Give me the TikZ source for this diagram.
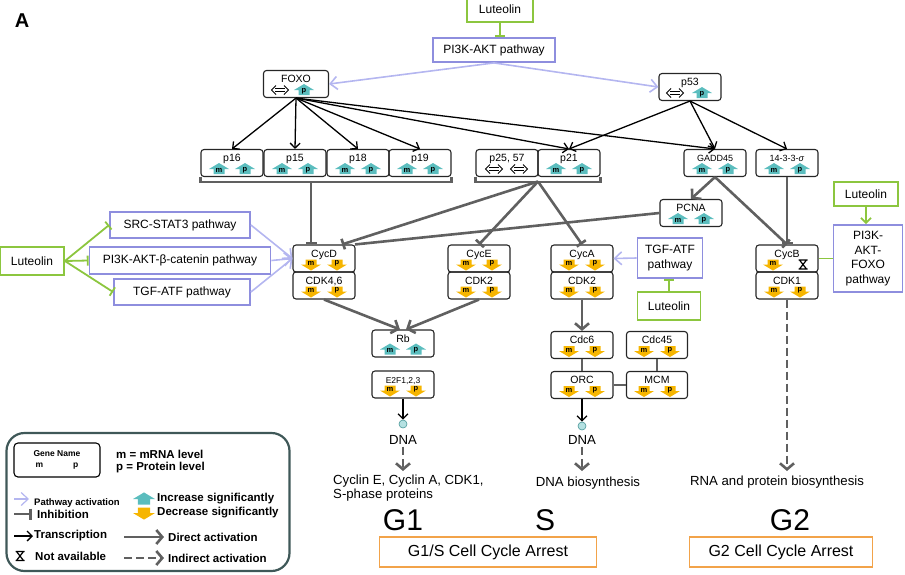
\documentclass[tikz,border=0pt]{standalone}
\usepackage{fontspec}
\setmainfont{Liberation Sans}
\usetikzlibrary{arrows.meta}

\definecolor{tealup}{HTML}{5BBDBE}
\definecolor{golddown}{HTML}{F6B500}
\definecolor{lavline}{HTML}{B4B6F0}
\definecolor{lavbox}{HTML}{8E8EDE}
\definecolor{lutgreen}{HTML}{8CC63F}
\definecolor{linkgray}{HTML}{606060}
\definecolor{arrestor}{HTML}{F2A34A}
\definecolor{legendbd}{HTML}{3F5858}

\newcommand\fsz[1]{\fontsize{#1}{#1}\selectfont}
% m / p marks under a gene name
\newcommand\levels[3]{%
  \pic at ([shift={(-13,6)}]#1.center) {#2=m};
  \pic at ([shift={(13,6)}]#1.center) {#3=p};}

\tikzset{
  upic/.pic={
    \fill[tealup] (-5.5,5) -- (-5.5,0) -- (-10,0) -- (0,-6) -- (10,0) -- (5.5,0) -- (5.5,5) -- cycle;
    \node[font=\bfseries\fsz{7.5}, inner sep=0pt] at (0,1) {#1};},
  dpic/.pic={
    \fill[golddown] (-5.5,-5) -- (5.5,-5) -- (5.5,0) -- (10,0) -- (0,6) -- (-10,0) -- (-5.5,0) -- cycle;
    \node[font=\bfseries\fsz{7.5}, inner sep=0pt] at (0,-1) {#1};},
  eqv/.pic={
    \draw[line width=0.9pt] (-5,-1.7) -- (5,-1.7) (-5,1.7) -- (5,1.7);
    \draw[line width=0.9pt, line join=miter] (-4,-4.5) -- (-8.5,0) -- (-4,4.5)
      (4,-4.5) -- (8.5,0) -- (4,4.5);},
  hglass/.pic={
    \draw[line width=1.2pt] (-4.5,-4.5) -- (4.5,-4.5) (-4.5,4.5) -- (4.5,4.5)
      (-3.5,-4.5) -- (3.5,4.5) (3.5,-4.5) -- (-3.5,4.5);},
}

\begin{document}
\begin{tikzpicture}[x=1pt, y=-1pt,
    gene/.style = {draw=black!85, line width=1.1pt, rounded corners=3pt,
      minimum width=62pt, minimum height=27pt, inner xsep=2pt, inner ysep=3.5pt,
      text height=8.5pt, text depth=11.5pt, font=\fsz{10.5}},
    pathbox/.style = {draw=lavbox, line width=1.8pt, minimum height=26pt,
      align=center, font=\fontsize{12}{14.5}\selectfont},
    lutbox/.style = {draw=lutgreen, line width=1.8pt, minimum height=26pt, font=\fsz{12}},
    arrest/.style = {draw=arrestor, line width=1.8pt, minimum height=30pt, font=\fsz{16}},
    txt/.style = {font=\fontsize{13.2}{14}\selectfont, inner sep=0pt},
    phase/.style = {font=\fsz{30}, inner sep=0pt},
    dnadot/.style = {circle, draw=tealup!80!black, fill=tealup!45, line width=0.6pt,
      minimum size=8pt, inner sep=0pt},
    trans/.style = {line width=1.3pt, -{Straight Barb[length=5pt, width=10pt]}},
    pact/.style = {lavline, line width=1.6pt, -{Straight Barb[length=7pt, width=13pt]}},
    lutinh/.style = {lutgreen, line width=1.8pt, -{Bar[width=10pt]}},
    link/.style = {linkgray, line width=2.6pt},
    direct/.style = {link, -{Straight Barb[length=6pt, width=14pt]}},
    indirect/.style = {direct, dash pattern=on 8pt off 4pt},
    block/.style = {link, -{Bar[width=11pt]}},
    legtxt/.style = {anchor=west, inner sep=0pt, font=\bfseries\fsz{11.5}}
]
\useasboundingbox (0,0) rectangle (905,574);

% Panel letter
\node[font=\bfseries\fsz{20}] (panelA) at (22,21) {A};

% Top pathway
\node[lutbox, minimum width=66pt] (lutA) at (500,9) {Luteolin};
\node[pathbox, minimum width=122pt, minimum height=24pt] (pi3k) at (494,50) {PI3K-AKT pathway};

% Transcription factors
\node[gene, minimum width=65pt] (foxo) at (296,84) {FOXO};
\pic at ([shift={(-16,6)}]foxo.center) {eqv};
\pic at ([shift={(8,6)}]foxo.center) {upic=p};
\node[gene] (p53) at (690,87) {p53};
\pic at ([shift={(-15,6)}]p53.center) {eqv};
\pic at ([shift={(12,6)}]p53.center) {upic=p};

% Target genes
\node[gene] (p16) at (232,163) {p16};
\node[gene] (p15) at (295,163) {p15};
\node[gene] (p18) at (358,163) {p18};
\node[gene] (p19) at (420,163) {p19};
\levels{p16}{upic}{upic}
\levels{p15}{upic}{upic}
\levels{p18}{upic}{upic}
\levels{p19}{upic}{upic}
\node[gene] (p2557) at (507,163) {p25, 57};
\pic at ([shift={(-13,6)}]p2557.center) {eqv};
\pic at ([shift={(12,6)}]p2557.center) {eqv};
\node[gene] (p21) at (569,163) {p21};
\levels{p21}{upic}{upic}
\node[gene, font=\fsz{9}] (gadd) at (715,163) {GADD45};
\levels{gadd}{upic}{upic}
\node[gene, font=\fsz{9}] (sigma) at (787,163) {14-3-3-\textit{σ}};
\levels{sigma}{upic}{upic}
\node[gene] (pcna) at (691,213) {PCNA};
\levels{pcna}{upic}{upic}

% Cyclins and CDKs
\node[gene] (cycD) at (324,258.5) {CycD};
\node[gene] (cdk46) at (324,285.5) {CDK4,6};
\node[gene] (cycE) at (479,258.5) {CycE};
\node[gene] (cdk2e) at (479,285.5) {CDK2};
\node[gene] (cycA) at (582,258.5) {CycA};
\node[gene] (cdk2a) at (582,285.5) {CDK2};
\node[gene] (cycB) at (787,258.5) {CycB};
\node[gene] (cdk1) at (787,285.5) {CDK1};
\levels{cycD}{dpic}{dpic}
\levels{cdk46}{dpic}{dpic}
\levels{cycE}{dpic}{dpic}
\levels{cdk2e}{dpic}{dpic}
\levels{cycA}{dpic}{dpic}
\levels{cdk2a}{dpic}{dpic}
\pic at ([shift={(-14,6)}]cycB.center) {dpic=m};
\pic at ([shift={(16,6)}]cycB.center) {hglass};
\levels{cdk1}{dpic}{dpic}

\node[gene] (rb) at (403,343.5) {Rb};
\levels{rb}{upic}{upic}
\node[gene, font=\fsz{8.5}] (e2f) at (403,384.5) {E2F1,2,3};
\levels{e2f}{dpic}{dpic}
\node[gene] (cdc6) at (582,345) {Cdc6};
\node[gene, minimum width=61pt] (cdc45) at (657,345) {Cdc45};
\node[gene] (orc) at (582,385) {ORC};
\node[gene, minimum width=61pt] (mcm) at (657,385) {MCM};
\levels{cdc6}{dpic}{dpic}
\levels{cdc45}{dpic}{dpic}
\levels{orc}{dpic}{dpic}
\levels{mcm}{dpic}{dpic}

% Side pathways
\node[lutbox, minimum width=64pt, minimum height=28pt] (lutB) at (32,261) {Luteolin};
\node[pathbox, minimum width=140pt] (src) at (180,225) {SRC-STAT3 pathway};
\node[pathbox, minimum width=181pt, minimum height=27pt] (bcat) at (180,260.5) {PI3K-AKT-β-catenin pathway};
\node[pathbox, minimum width=136pt] (tgfL) at (182,292) {TGF-ATF pathway};
\node[pathbox, minimum width=65pt, minimum height=40pt] (tgfR) at (670,258) {TGF-ATF\\pathway};
\node[lutbox, minimum width=63pt, minimum height=28pt] (lutC) at (669,306) {Luteolin};
\node[lutbox, minimum width=64pt, minimum height=24pt] (lutD) at (866,194) {Luteolin};
\node[pathbox, minimum width=69pt, minimum height=67pt] (foxoP) at (868,258.5) {PI3K-\\AKT-\\FOXO\\pathway};

% Outputs
\node[dnadot] (dot1) at (403,424) {};
\node[txt] (dna1) at (403,440) {DNA};
\coordinate (g1end) at (403,471);
\node[txt, anchor=north west, align=left] (cyclins) at (333,475) {Cyclin E, Cyclin A, CDK1,\\S-phase proteins};
\node[dnadot] (dot2) at (582,426) {};
\node[txt] (dna2) at (582,440) {DNA};
\coordinate (send) at (582,471);
\node[txt] (dnabio) at (588,483) {DNA biosynthesis};
\coordinate (g2end) at (787,471);
\node[txt] (rnabio) at (777,482) {RNA and protein biosynthesis};

\node[phase] (g1) at (403,520) {G1};
\node[phase] (sph) at (545,520) {S};
\node[phase] (g2) at (790,520) {G2};
\node[arrest, minimum width=217pt] (arr1) at (488,552) {G1/S Cell Cycle Arrest};
\node[arrest, minimum width=183pt] (arr2) at (781,552) {G2 Cell Cycle Arrest};

% Edges
\draw[lutinh] (lutA.south) -- (lutA.south |- pi3k.north);
\draw[pact] (pi3k.south) -- (foxo.east);
\draw[pact] (pi3k.south) -- (p53.west);

\draw[trans] (foxo.south) -- (p16.north);
\draw[trans] (foxo.south) -- (p15.north);
\draw[trans] (foxo.south) -- (p18.north);
\draw[trans] (foxo.south) -- (p19.north);
\draw[trans] (foxo.south) -- (p21.north);
\draw[trans] (foxo.south) -- (gadd.north);
\draw[trans] (p53.south) -- (p21.north);
\draw[trans] (p53.south) -- (gadd.north);
\draw[trans] (p53.south) -- (sigma.north);

\draw[link, line width=2.2pt] (p16.south west) -- ++(0,5) -| (p19.south east);
\draw[link, line width=2.2pt] (p2557.south west) -- ++(0,5) -| (p21.south east);
\coordinate (pk) at (311,181.5);
\coordinate (pc) at (538,181.5);
\draw[block] (pk) -- (pk |- cycD.north);
\draw[block] (pc) -- ([xshift=18]cycD.north);
\draw[block] (pc) -- (cycE.north);
\draw[block] (pc) -- (cycA.north);

\draw[direct] (gadd.south) -- (pcna.north);
\draw[block] (gadd.south) -- (cycB.north);
\draw[block] (sigma.south) -- (cycB.north);
\draw[link] (pcna.west) -- ([xshift=31]cycD.north);

\draw[lutinh] (lutB.east) -- (src.west);
\draw[lutinh] (lutB.east) -- (bcat.west);
\draw[lutinh] (lutB.east) -- (tgfL.west);
\draw[pact] (src.east) -- (cycD.west);
\draw[pact] (bcat.east) -- (cycD.west);
\draw[pact] (tgfL.east) -- (cycD.west);

\draw[lutinh] (lutC.north) -- (lutC.north |- tgfR.south);
\draw[pact] (tgfR.west) -- (cycA.east);
\draw[lutgreen, line width=1.8pt, -{Straight Barb[length=5pt, width=10pt]}] (lutD.south) -- (lutD.south |- foxoP.north);
\draw[lutgreen, line width=1.8pt] (foxoP.west) -- (cycB.east);

\draw[direct] (cdk46.south) -- ([xshift=-3]rb.north);
\draw[direct] (cdk2e.south) -- ([xshift=3]rb.north);
\draw[direct] (cdk2a.south) -- (cdc6.north);
\draw[link, line width=2.2pt] (cdc6) -- (orc);
\draw[link, line width=2.2pt] (cdc45) -- (mcm);
\draw[link, line width=2.2pt] (orc) -- (mcm);

\draw[trans] (e2f.south) -- (dot1.north);
\draw[indirect] ([yshift=-2]dna1.south) -- (g1end);
\draw[trans] (orc.south) -- (dot2.north);
\draw[indirect] ([yshift=-2]dna2.south) -- (send);
\draw[indirect] (cdk1.south) -- (g2end);

% Legend
\node[draw=legendbd, line width=2.2pt, rounded corners=18pt, minimum width=283pt, minimum height=138pt] (legend) at (148,502) {};
\node[draw, line width=1.1pt, rounded corners=4pt, minimum width=86pt, minimum height=34pt,
  align=center, font=\bfseries\fontsize{8.5}{11}\selectfont] (lgene) at (57,460) {Gene Name\\m\hspace{30pt}p};
\node[legtxt] (lmrna) at (116,454) {m = mRNA level};
\node[legtxt] (lprot) at (116,468) {p = Protein level};
\node[legtxt, font=\bfseries\fsz{9.5}] (lpath) at (34,503) {Pathway activation};
\draw[pact, line width=1.2pt] ([shift={(-20,-4)}]lpath.west) -- ([shift={(-5,-4)}]lpath.west);
\node[legtxt] (linh) at (37,514) {Inhibition};
\draw[link, line width=2.6pt, -{Bar[width=11pt]}] ([xshift=-23]linh.west) -- ([xshift=-5]linh.west);
\node[legtxt] (linc) at (157,499) {Increase significantly};
\pic[scale=1.1] at ([xshift=-13]linc.west) {upic=};
\node[legtxt] (ldec) at (157,513) {Decrease significantly};
\pic[scale=1.1] at ([xshift=-13]ldec.west) {dpic=};
\node[legtxt] (ltrans) at (34,536) {Transcription};
\draw[trans] ([xshift=-20]ltrans.west) -- ([xshift=-1]ltrans.west);
\node[legtxt] (ldir) at (168,537) {Direct activation};
\draw[direct] ([xshift=-44]ldir.west) -- ([xshift=-4]ldir.west);
\node[legtxt] (lna) at (35,556) {Not available};
\pic at ([xshift=-15]lna.west) {hglass};
\node[legtxt] (lind) at (168,558) {Indirect activation};
\draw[indirect] ([xshift=-44]lind.west) -- ([xshift=-4]lind.west);

\end{tikzpicture}
\end{document}
